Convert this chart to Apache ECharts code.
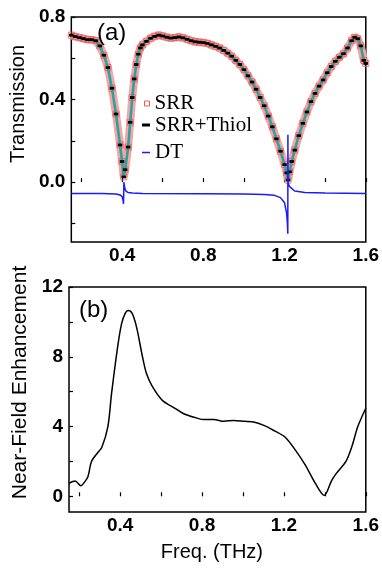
<!DOCTYPE html>
<html>
<head>
<meta charset="utf-8">
<script src="https://cdn.jsdelivr.net/npm/echarts@6.0.0/dist/echarts.min.js"></script>
<style>
html,body{margin:0;padding:0;background:#fff;}
#chart{width:382px;height:570px;}
</style>
</head>
<body>
<div id="chart"></div>
<script>
// ---- Panel (a): transmission ----
const freqA = [0.15,0.17,0.19,0.21,0.23,0.25,0.27,0.29,0.31,0.33,0.35,0.37,0.39,0.40,0.408,0.415,0.43,0.44,0.45,0.46,0.47,0.48,0.49,0.50,0.52,0.54,0.56,0.58,0.60,0.62,0.64,0.66,0.68,0.70,0.72,0.74,0.76,0.78,0.80,0.82,0.84,0.86,0.88,0.90,0.92,0.94,0.96,0.98,1.00,1.02,1.04,1.06,1.08,1.10,1.12,1.14,1.16,1.18,1.20,1.21,1.217,1.225,1.235,1.25,1.27,1.29,1.31,1.33,1.35,1.37,1.39,1.41,1.43,1.45,1.47,1.49,1.51,1.53,1.545,1.56,1.575,1.59,1.60];
const srrT = [0.712,0.705,0.700,0.695,0.690,0.690,0.685,0.660,0.615,0.555,0.455,0.330,0.180,0.100,0.025,0.060,0.170,0.290,0.410,0.500,0.570,0.620,0.650,0.665,0.682,0.697,0.706,0.712,0.708,0.702,0.698,0.700,0.703,0.699,0.692,0.685,0.680,0.678,0.676,0.672,0.665,0.658,0.650,0.638,0.625,0.610,0.590,0.570,0.545,0.515,0.485,0.450,0.410,0.370,0.320,0.268,0.210,0.150,0.085,0.045,0.010,0.050,0.100,0.155,0.225,0.285,0.340,0.390,0.430,0.465,0.495,0.530,0.560,0.585,0.605,0.622,0.650,0.685,0.702,0.695,0.660,0.590,0.575];
const thiolT = [0.712,0.705,0.700,0.695,0.690,0.690,0.685,0.660,0.615,0.555,0.455,0.330,0.180,0.100,0.025,0.060,0.170,0.290,0.410,0.500,0.570,0.620,0.650,0.665,0.682,0.697,0.706,0.712,0.708,0.702,0.698,0.700,0.703,0.699,0.692,0.685,0.680,0.678,0.676,0.672,0.665,0.658,0.650,0.638,0.625,0.610,0.590,0.570,0.545,0.515,0.485,0.450,0.410,0.370,0.320,0.268,0.210,0.150,0.085,0.045,0.010,0.050,0.100,0.155,0.225,0.285,0.340,0.390,0.430,0.465,0.495,0.530,0.560,0.585,0.605,0.622,0.650,0.685,0.702,0.695,0.660,0.590,0.575];
const freqDT = [0.15,0.30,0.37,0.39,0.40,0.404,0.407,0.408,0.409,0.411,0.415,0.42,0.43,0.45,0.50,0.80,1.00,1.10,1.15,1.18,1.20,1.21,1.214,1.216,1.2165,1.217,1.218,1.22,1.225,1.23,1.25,1.30,1.40,1.60];
const dtT = [-0.055,-0.055,-0.057,-0.062,-0.070,-0.085,-0.105,-0.060,0.000,-0.015,-0.035,-0.045,-0.050,-0.053,-0.055,-0.056,-0.057,-0.060,-0.064,-0.075,-0.100,-0.150,-0.200,-0.250,0.230,0.030,0.000,-0.012,-0.022,-0.030,-0.043,-0.050,-0.053,-0.055];

// ---- Panel (b): near-field enhancement ----
const freqB = [0.15,0.18,0.208,0.225,0.242,0.26,0.29,0.31,0.34,0.358,0.388,0.407,0.425,0.439,0.458,0.48,0.509,0.528,0.557,0.606,0.66,0.708,0.756,0.807,0.858,0.907,0.955,1.006,1.057,1.105,1.154,1.205,1.256,1.304,1.353,1.397,1.433,1.455,1.503,1.532,1.561,1.60];
const nfe = [0.75,0.88,0.6,0.8,1.1,2.0,2.5,2.8,4.0,5.9,8.6,9.9,10.5,10.65,10.5,9.7,8.0,7.05,6.3,5.5,5.1,4.75,4.55,4.4,4.4,4.3,4.35,4.3,4.25,4.05,3.75,3.4,2.65,1.8,0.75,0.05,0.9,1.3,2.0,2.85,4.0,5.05];

// ---- ticks ----
const xTicks = [0.2,0.4,0.6,0.8,1.0,1.2,1.4,1.6];
const xLabels = [0.4,0.8,1.2,1.6];
const yTicksA = [-0.2,0,0.2,0.4,0.6,0.8];
const yLabelsA = [0,0.4,0.8];
const yTicksB = [0,2,4,6,8,10,12];
const yLabelsB = [0,4,8,12];

const zip = (xs, ys) => xs.map((x, i) => [x, ys[i]]);

const SANS = 'Liberation Sans, Arial, sans-serif';
const SERIF = '"Liberation Serif", "Times New Roman", serif';
const tickLabel = {fontFamily: SANS, fontWeight: 'bold', fontSize: 19, color: '#000'};

function xAxisCfg(idx, name) {
  return {
    type: 'value', gridIndex: idx, min: 0.15, max: 1.6,
    axisLine: {show: false},
    splitLine: {show: false},
    axisTick: {show: true, inside: true, length: 4, customValues: xTicks, lineStyle: {color: '#000', width: 1.2}},
    axisLabel: Object.assign({customValues: xLabels, margin: 4, formatter: v => v.toFixed(1)}, tickLabel),
    name: name || '',
    nameLocation: 'middle',
    nameGap: 30,
    nameTextStyle: {fontFamily: SANS, fontSize: 20, color: '#000', padding: [0, 11, 0, 0]}
  };
}

const legendText = (pb) => ({fontFamily: SERIF, fontWeight: 'normal', fontSize: 21, color: '#000', padding: [0, 0, pb, 0]});

const option = {
  animation: false,
  backgroundColor: '#fff',
  grid: [
    {left: 69, top: 17, width: 299, height: 225, show: true, borderColor: '#000', borderWidth: 1.5},
    {left: 69, top: 287, width: 299, height: 225, show: true, borderColor: '#000', borderWidth: 1.5}
  ],
  title: [
    {text: '(a)', left: 97, top: 21, padding: 0, textStyle: {fontFamily: SANS, fontWeight: 'normal', fontSize: 24, color: '#000'}},
    {text: '(b)', left: 79, top: 298, padding: 0, textStyle: {fontFamily: SANS, fontWeight: 'normal', fontSize: 24, color: '#000'}}
  ],
  legend: [
    {data: [{name: 'SRR', icon: 'rect', itemStyle: {color: '#fff', borderColor: '#ee5a5a', borderWidth: 1}}],
     left: 144, top: 93, padding: 0, itemWidth: 5, itemHeight: 5, selectedMode: false,
     textStyle: legendText(6)},
    {data: [{name: 'SRR+Thiol', icon: 'rect', itemStyle: {color: '#000', borderWidth: 0}}],
     left: 142, top: 114.5, padding: 0, itemWidth: 8, itemHeight: 3, selectedMode: false,
     textStyle: legendText(12)},
    {data: [{name: 'DT', icon: 'rect', itemStyle: {color: '#1a1aff', borderWidth: 0}}],
     left: 142, top: 142, padding: 0, itemWidth: 8, itemHeight: 1.5, selectedMode: false,
     textStyle: legendText(11)}
  ],
  xAxis: [xAxisCfg(0), xAxisCfg(1, 'Freq. (THz)')],
  yAxis: [
    {
      type: 'value', gridIndex: 0, min: -0.29, max: 0.8,
      axisLine: {show: false}, splitLine: {show: false},
      axisTick: {show: true, inside: true, length: 4, customValues: yTicksA, lineStyle: {color: '#000', width: 1.2}},
      axisLabel: Object.assign({customValues: yLabelsA, margin: 6, formatter: v => v.toFixed(1)}, tickLabel),
      name: 'Transmission', nameLocation: 'middle', nameGap: 41,
      nameTextStyle: {fontFamily: SANS, fontSize: 20, color: '#000', padding: [0, 0, 0, 51]}
    },
    {
      type: 'value', gridIndex: 1, min: -0.9, max: 12,
      axisLine: {show: false}, splitLine: {show: false},
      axisTick: {show: true, inside: true, length: 4, customValues: yTicksB, lineStyle: {color: '#000', width: 1.2}},
      axisLabel: Object.assign({customValues: yLabelsB, margin: 6, formatter: v => String(v)}, tickLabel),
      name: 'Near-Field Enhancement', nameLocation: 'middle', nameGap: 38,
      nameTextStyle: {fontFamily: SANS, fontSize: 21, color: '#000', padding: [0, 0, 0, 34]}
    }
  ],
  series: [
    {
      name: 'SRR', type: 'line', xAxisIndex: 0, yAxisIndex: 0,
      data: zip(freqA, srrT),
      lineStyle: {color: '#f5a5a5', width: 8},
      symbol: 'rect', symbolSize: 6, showAllSymbol: true,
      itemStyle: {color: 'rgba(255,255,255,0)', borderColor: '#ef5a5a', borderWidth: 0.8},
      z: 2
    },
    {
      name: 'SRR+Thiol', type: 'line', xAxisIndex: 0, yAxisIndex: 0,
      data: zip(freqA, thiolT),
      lineStyle: {color: '#2aa3a0', width: 2.6},
      symbol: 'rect', symbolSize: [4.5, 2.8], showAllSymbol: true,
      itemStyle: {color: '#000', borderWidth: 0},
      z: 3
    },
    {
      name: 'DT', type: 'line', xAxisIndex: 0, yAxisIndex: 0,
      data: zip(freqDT, dtT),
      lineStyle: {color: '#1a1aff', width: 1.5},
      symbol: 'none', z: 4
    },
    {
      name: 'Enhancement', type: 'line', xAxisIndex: 1, yAxisIndex: 1,
      data: zip(freqB, nfe),
      smooth: 0.3,
      lineStyle: {color: '#000', width: 1.5},
      symbol: 'none', z: 3
    }
  ]
};

const chart = echarts.init(document.getElementById('chart'), null, {renderer: 'canvas'});
chart.setOption(option);
</script>
</body>
</html>
